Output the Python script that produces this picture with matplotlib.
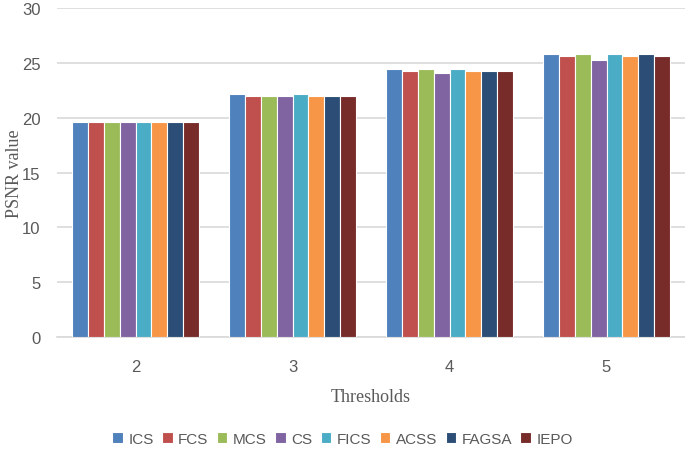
import matplotlib
matplotlib.use("Agg")
import matplotlib.pyplot as plt
import numpy as np

thresholds = ["2", "3", "4", "5"]
methods = ["ICS", "FCS", "MCS", "CS", "FICS", "ACSS", "FAGSA", "IEPO"]
ics = [19.6, 22.2, 24.4, 25.8]
fcs = [19.6, 22.0, 24.3, 25.6]
mcs = [19.6, 22.0, 24.4, 25.8]
cs = [19.6, 22.0, 24.1, 25.3]
fics = [19.6, 22.2, 24.4, 25.8]
acss = [19.6, 22.0, 24.3, 25.6]
fagsa = [19.6, 22.0, 24.3, 25.8]
iepo = [19.6, 22.0, 24.3, 25.6]
series = [ics, fcs, mcs, cs, fics, acss, fagsa, iepo]
colors = ["#4F81BD", "#C0504D", "#9BBB59", "#8064A2", "#4BACC6", "#F79646", "#2C4D75", "#772C2A"]

fig = plt.figure(figsize=(6.85, 4.52), dpi=100)
ax = fig.add_axes([57/685, (452-338)/452, (685-57)/685, (338-9)/452])

x = np.arange(len(thresholds))
group_w = 0.81
bw = group_w / len(methods)
for i, (m, vals) in enumerate(zip(methods, series)):
    ax.bar(x - group_w/2 + bw*(i+0.5), vals, width=bw, color=colors[i],
           edgecolor="white", linewidth=0.8, label=m, zorder=3)

ax.set_xlim(-0.5, len(thresholds)-0.5)
ax.set_ylim(0, 30)
ax.set_yticks(range(0, 31, 5))
ax.set_xticks(x)
ax.set_xticklabels(thresholds)
ax.yaxis.grid(True, color="#D9D9D9", linewidth=1.2, zorder=0)
for s in ["top", "right", "left"]:
    ax.spines[s].set_visible(False)
ax.spines["bottom"].set_color("#D9D9D9")
ax.spines["bottom"].set_linewidth(1.2)
ax.tick_params(axis="both", length=0, labelsize=12, labelcolor="#595959",
               labelfontfamily="Liberation Sans")
ax.tick_params(axis="y", pad=12)
ax.tick_params(axis="x", pad=16)

ax.set_ylabel("PSNR value", fontfamily="Liberation Serif", fontsize=13, color="#595959")
ax.yaxis.set_label_coords((23-57)/628, 0.5)
ax.set_xlabel("Thresholds", fontfamily="Liberation Serif", fontsize=13, color="#595959")
ax.xaxis.set_label_coords(0.5, -(389-338)/329)

leg = fig.legend(loc="center", bbox_to_anchor=(0.5, 1 - 440/452), ncol=8, frameon=False,
                 handlelength=0.7, handleheight=0.7, handletextpad=0.35,
                 columnspacing=0.55, prop={"family": "Liberation Sans", "size": 11})
for t in leg.get_texts():
    t.set_color("#595959")

fig.savefig("out.png", dpi=100)
